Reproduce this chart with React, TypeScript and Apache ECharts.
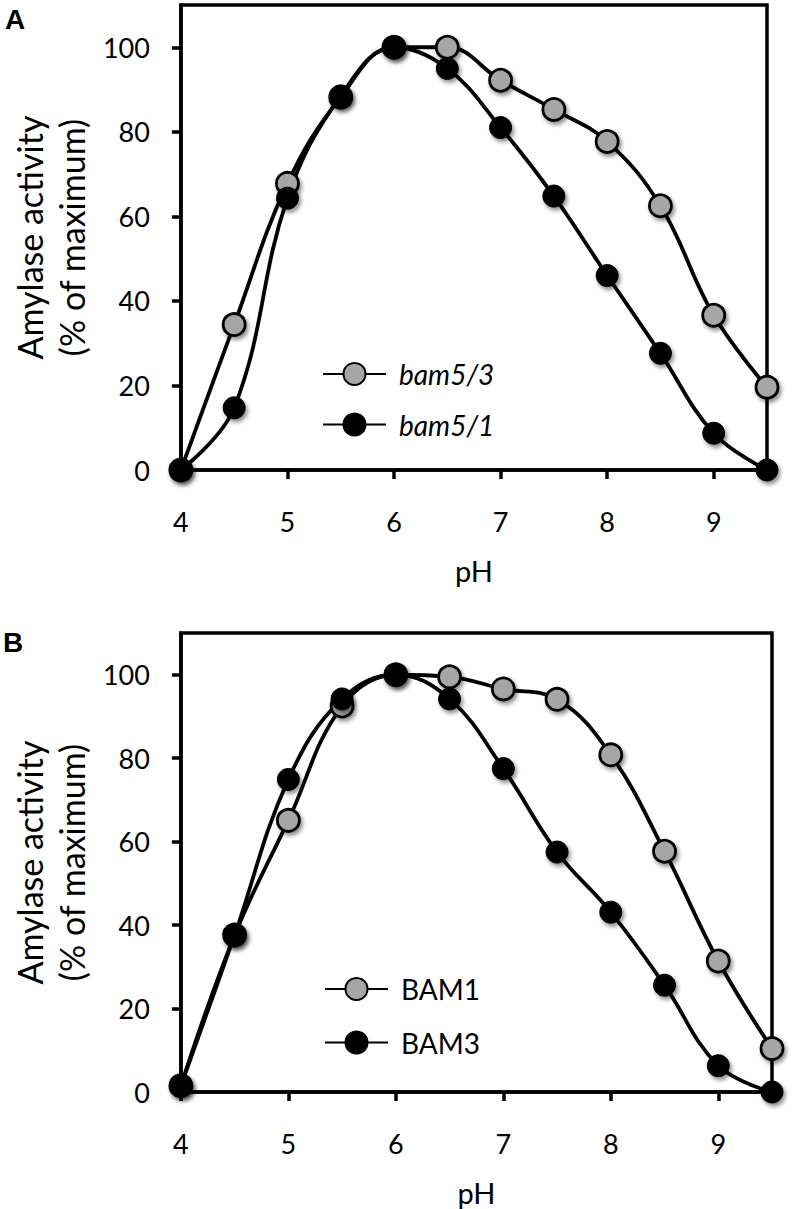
import React, { useEffect, useRef } from "react";
import * as echarts from "echarts";

const PH = [4, 4.5, 5, 5.5, 6, 6.5, 7, 7.5, 8, 8.5, 9, 9.5];
const bam53 = [0, 34.4, 67.8, 88.2, 100, 100, 92.2, 85.3, 77.7, 62.5, 36.6, 19.6];
const bam51 = [0, 14.7, 64.3, 88.5, 100, 95.0, 81.0, 64.8, 46.0, 27.6, 8.7, 0];
const bam1 = [1.5, 37.6, 65.1, 92.5, 100, 99.5, 96.6, 94.1, 80.8, 57.7, 31.4, 10.4];
const bam3 = [1.5, 37.6, 74.9, 94.2, 100, 94.2, 77.5, 57.5, 43.1, 25.6, 6.3, 0];
const X_TICKS = [4, 5, 6, 7, 8, 9];
const Y_TICKS = [0, 20, 40, 60, 80, 100];
const NAMES_A = ["bam5/3", "bam5/1"];
const NAMES_B = ["BAM1", "BAM3"];
const X_TITLE = "pH";
const Y_TITLE = "Amylase activity\n(% of maximum)";

const FONT = "Lato, 'Open Sans', sans-serif";
const GRAY = "#a6a6a6";

function pairs(ys: number[]) {
  return PH.map((x, i) => [x, ys[i]]);
}

function xAxisCfg(gridIndex: number) {
  return {
    type: "value",
    gridIndex,
    min: 4,
    max: 9.5,
    axisLine: { show: true, onZero: false, lineStyle: { color: "#000", width: 3.5 } },
    axisTick: { show: true, length: 9, customValues: X_TICKS, lineStyle: { color: "#000", width: 3.5 } },
    axisLabel: { customValues: X_TICKS, margin: 38, fontSize: 27, color: "#000", fontFamily: FONT },
    splitLine: { show: false },
    name: X_TITLE,
    nameLocation: "middle",
    nameGap: 100,
    nameTextStyle: { fontSize: 29, color: "#000", fontFamily: FONT, verticalAlign: "middle" },
  };
}

function yAxisCfg(gridIndex: number) {
  return {
    type: "value",
    gridIndex,
    min: 0,
    max: 110,
    axisLine: { show: true, onZero: false, lineStyle: { color: "#000", width: 3.5 } },
    axisTick: { show: true, length: 9, customValues: Y_TICKS, lineStyle: { color: "#000", width: 3.5 } },
    axisLabel: { customValues: Y_TICKS, margin: 31, fontSize: 27, color: "#000", fontFamily: FONT },
    splitLine: { show: false },
    name: Y_TITLE,
    nameLocation: "middle",
    nameRotate: 90,
    nameGap: 120,
    nameTextStyle: {
      fontSize: 34,
      lineHeight: 42,
      color: "#000",
      fontFamily: FONT,
      align: "center",
      verticalAlign: "middle",
    },
  };
}

const shadow = {
  shadowColor: "rgba(0,0,0,0.45)",
  shadowBlur: 4,
  shadowOffsetX: 2,
  shadowOffsetY: 3,
};

function lineSeries(name: string, ys: number[], idx: number, filled: boolean) {
  return {
    type: "line",
    name,
    xAxisIndex: idx,
    yAxisIndex: idx,
    data: pairs(ys),
    smooth: 0.4,
    clip: false,
    symbol: "circle",
    symbolSize: 22,
    lineStyle: { color: "#000", width: 3.8 },
    itemStyle: filled
      ? { color: "#000", borderColor: "#000", borderWidth: 1, ...shadow }
      : { color: GRAY, borderColor: "#000", borderWidth: 2.8, ...shadow },
    emphasis: { disabled: true },
  };
}

function legendCfg(names: string[], left: number, top: number, gap: number, italic: boolean) {
  return {
    data: names,
    orient: "vertical",
    left,
    top,
    itemWidth: 63,
    itemHeight: 27.5,
    itemGap: gap,
    selectedMode: false,
    textStyle: {
      fontSize: 28,
      color: "#000",
      fontFamily: FONT,
      fontStyle: italic ? "italic" : "normal",
      padding: [0, 0, 0, 8],
    },
  };
}

export default function App() {
  const ref = useRef<HTMLDivElement>(null);
  useEffect(() => {
    if (!ref.current) return;
    const chart = echarts.init(ref.current, null, { renderer: "svg" });
    chart.setOption({
      animation: false,
      grid: [
        { left: 159, top: 5, width: 608, height: 465, show: true, borderColor: "#000", borderWidth: 3.5, backgroundColor: "transparent" },
        { left: 166, top: 633, width: 606, height: 459, show: true, borderColor: "#000", borderWidth: 3.5, backgroundColor: "transparent" },
      ],
      xAxis: [xAxisCfg(0), xAxisCfg(1)],
      yAxis: [yAxisCfg(0), yAxisCfg(1)],
      legend: [
        legendCfg(NAMES_A, 317, 355, 22.5, true),
        legendCfg(NAMES_B, 319, 970, 25.5, false),
      ],
      series: [
        lineSeries(NAMES_A[0], bam53, 0, false),
        lineSeries(NAMES_A[1], bam51, 0, true),
        lineSeries(NAMES_B[0], bam1, 1, false),
        lineSeries(NAMES_B[1], bam3, 1, true),
      ],
      graphic: [
        { type: "text", left: 5, top: 5, style: { text: "A", fontSize: 28, fontWeight: "bold", fill: "#000", fontFamily: "'Liberation Sans', Arial, sans-serif" } },
        { type: "text", left: 3, top: 628, style: { text: "B", fontSize: 28, fontWeight: "bold", fill: "#000", fontFamily: "'Liberation Sans', Arial, sans-serif" } },
      ],
    });
    return () => chart.dispose();
  }, []);
  return (
    <div
      ref={ref}
      style={{ position: "absolute", left: 0, top: 0, width: 793, height: 1209, background: "#fff" }}
    />
  );
}
